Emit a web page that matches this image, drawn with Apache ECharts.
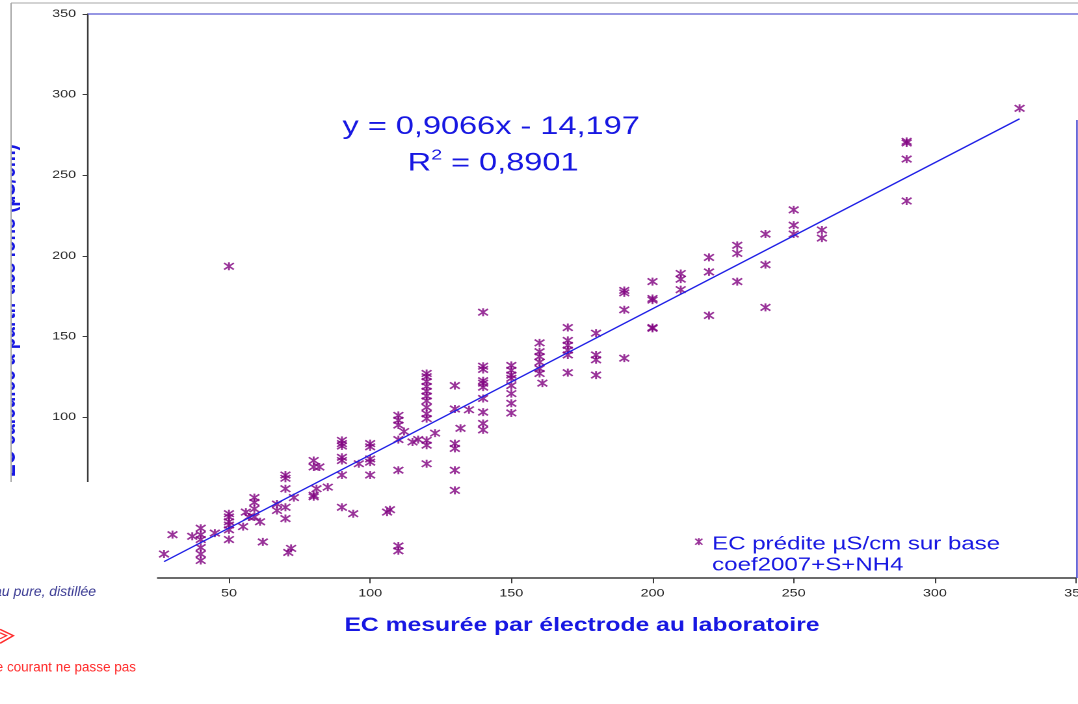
<!DOCTYPE html>
<html>
<head>
<meta charset="utf-8">
<script src="https://cdn.jsdelivr.net/npm/echarts@6/dist/echarts.min.js"></script>
<style>
  html, body { margin: 0; padding: 0; background: #fff; overflow: hidden; width: 1078px; height: 704px; }
  /* the chart picture is drawn on a narrower canvas and widened, like an image stretched on a slide */
  #chart { width: 829px; height: 704px; transform: scaleX(1.30036); transform-origin: 0 0; }
</style>
</head>
<body>
<div id="chart"></div>
<script>
// EC measured by electrode (x) and EC computed from the ions (y), µS/cm
const ecMesuree = [
  27, 30, 37, 45,
  40, 40, 40, 40, 40, 40,
  50, 50, 50, 50, 50, 50, 50,
  55, 56, 57, 61, 62,
  59, 59, 59, 59,
  67, 67, 71, 72, 73,
  70, 70, 70, 70, 70,
  80, 80, 80, 80, 82, 81, 85,
  90, 90, 90, 90, 90, 90, 90,
  94, 96, 106, 107,
  100, 100, 100, 100, 100,
  110, 110, 110, 110, 110, 110, 110,
  112, 115, 117, 123, 132, 135,
  120, 120, 120, 120, 120, 120, 120, 120, 120, 120, 120, 120, 120,
  130, 130, 130, 130, 130, 130,
  140, 140, 140, 140, 140, 140, 140, 140, 140, 140,
  150, 150, 150, 150, 150, 150, 150, 150,
  160, 160, 160, 160, 160, 160, 161,
  170, 170, 170, 170, 170, 170,
  180, 180, 180, 180,
  190, 190, 190, 190,
  200, 200, 200, 200, 200,
  210, 210, 210, 220, 220, 220,
  230, 230, 230, 240, 240, 240,
  250, 250, 250, 260, 260,
  290, 290, 290, 290, 330
];
const ecPredite = [
  15, 27, 26, 28,
  31, 27, 24, 19, 15, 11,
  40, 38, 35, 33, 30, 24, 193.5,
  32, 41, 38, 35, 22.5,
  50, 47, 43, 38,
  46, 42, 16, 18.5, 50,
  64, 62, 55.5, 44, 37,
  73, 69, 51.5, 50.5, 69, 55.5, 56.5,
  85.5, 83.5, 82, 75, 73, 64, 44,
  40, 71, 41, 42.5,
  83.5, 81.5, 74, 72, 64,
  101, 98, 95, 86, 67, 20, 17,
  91, 84.5, 86, 90, 93, 104.5,
  127, 125, 122, 119, 116, 113, 110, 106, 102, 99, 85.5, 82.5, 71,
  119.5, 105, 83.5, 80.5, 67, 54.5,
  165, 131.5, 129.5, 122.5, 121, 118.5, 111.5, 103, 96, 92,
  132, 129, 126, 124, 119.5, 114.5, 108.5, 102.5,
  146, 140.5, 137.5, 134, 130, 127, 121,
  155.5, 147.5, 144.5, 141.5, 138.5, 127.5,
  152, 138.5, 135.5, 126,
  178.5, 177, 166.5, 136.5,
  184, 173.5, 172.5, 155.5, 155,
  189, 185.5, 179, 199, 190, 163,
  206.5, 201.5, 184, 213.5, 194.5, 168,
  228.5, 219, 213.5, 216, 211,
  271, 270, 260, 234, 291.5
];

// linear trend as printed on the chart
const trendSlope = 0.9066;
const trendIntercept = -14.197;
const trendEquation = 'y = 0,9066x - 14,197';
const trendR2 = '0,8901';

const axisTicks = { min: 0, max: 350, interval: 50 };
const seriesName = 'EC prédite µS/cm sur base coef2007+S+NH4';
const xTitle = 'EC mesurée par électrode au laboratoire';
const yTitle = 'EC calculée à partir des ions (µS/cm)';
const noteLines = ['Eau pure, distillée', 'Le courant ne passe pas'];

const STRETCH = 1078 / 829;
const FONT = '"Liberation Sans", Arial, sans-serif';
const BLUE = '#1717e2';
const PURPLE = '#800080';
const AXIS = '#3a3a3a';

const points = ecMesuree.map((x, i) => [x, ecPredite[i]]);
const xLo = Math.min(...ecMesuree);
const xHi = Math.max(...ecMesuree);
const trendPoints = [xLo, xHi].map(x => [x, trendSlope * x + trendIntercept]);

const chart = echarts.init(document.getElementById('chart'), null, { renderer: 'canvas', devicePixelRatio: 2 });

const option = {
  animation: false,
  backgroundColor: '#ffffff',
  grid: { left: 67.5, right: 1.5, top: 14, bottom: 125.8, containLabel: false, outerBoundsMode: 'none' },
  xAxis: {
    type: 'value',
    min: axisTicks.min, max: axisTicks.max, interval: axisTicks.interval,
    name: xTitle,
    nameLocation: 'middle',
    nameGap: 38,
    nameTextStyle: { color: BLUE, fontSize: 19, fontWeight: 'bold', fontFamily: FONT },
    axisLine: { onZero: false, lineStyle: { color: AXIS, width: 1.5 } },
    axisTick: { length: 5, lineStyle: { color: AXIS } },
    axisLabel: { color: '#262626', fontSize: 11, margin: 10, fontFamily: FONT },
    splitLine: { show: false }
  },
  yAxis: {
    type: 'value',
    min: axisTicks.min, max: axisTicks.max, interval: axisTicks.interval,
    axisLine: { show: true, onZero: false, lineStyle: { color: AXIS, width: 1.2 } },
    axisTick: { show: true, length: 4, lineStyle: { color: AXIS } },
    axisLabel: { color: '#262626', fontSize: 11, margin: 9, fontFamily: FONT },
    splitLine: { show: false }
  },
  legend: {
    data: [{ name: seriesName, icon: 'path://M0,0M8,42M0,4.5L5.5,10.5M5.5,4.5L0,10.5M2.75,4L2.75,11' }],
    left: 534, top: 533.5, padding: 0,
    itemWidth: 8, itemHeight: 42,
    selectedMode: false,
    formatter: n => n.replace('base ', 'base\n'),
    itemStyle: { color: PURPLE, borderColor: PURPLE, borderWidth: 1.3 },
    textStyle: { color: BLUE, fontSize: 18.5, fontFamily: FONT, lineHeight: 21 }
  },
  series: [
    {
      type: 'scatter',
      name: seriesName,
      data: points,
      symbol: 'path://M0,1L10,9M10,1L0,9M5,0L5,10',
      symbolSize: [7.5, 8],
      itemStyle: { color: PURPLE, borderColor: PURPLE, borderWidth: 1.5 },
      emphasis: { disabled: true },
      z: 3
    },
    {
      type: 'line',
      name: 'tendance',
      data: trendPoints,
      symbol: 'none',
      lineStyle: { color: '#1f1fe6', width: 1.3 },
      emphasis: { disabled: true },
      silent: true,
      z: 4
    }
  ],
  graphic: [
    // frame of the plot: blue top edge and right edge
    { type: 'line', z: 40, shape: { x1: 67.5, y1: 14, x2: 829, y2: 14 }, style: { stroke: '#5858d2', lineWidth: 1.2 } },
    { type: 'line', z: 40, shape: { x1: 828.2, y1: 120, x2: 828.2, y2: 578 }, style: { stroke: '#4a4ad0', lineWidth: 1.2 } },
    // regression equation
    { type: 'text', z: 45, x: 377.7, y: 127,
      style: { text: trendEquation, fill: BLUE, fontSize: 25, fontFamily: FONT, align: 'center', verticalAlign: 'middle' } },
    { type: 'text', z: 45, x: 379.2, y: 162,
      style: {
        text: '{n|R}{sup|2}{n| = ' + trendR2 + '}',
        align: 'center', verticalAlign: 'middle',
        rich: {
          n: { fill: BLUE, fontSize: 25, fontFamily: FONT, lineHeight: 28, verticalAlign: 'bottom' },
          sup: { fill: BLUE, fontSize: 15, fontFamily: FONT, lineHeight: 15, verticalAlign: 'top' }
        }
      } },
    // vertical axis title, cut by the frame on the left
    { type: 'text', z: 50, x: 6.2, y: 144, rotation: Math.PI / 2,
      style: { text: yTitle, fill: BLUE, fontSize: 19, fontWeight: 'bold', fontFamily: FONT, align: 'right', verticalAlign: 'middle' } },
    { type: 'rect', z: 60, shape: { x: 0, y: 0, width: 8.5, height: 704 }, style: { fill: '#ffffff' } },
    { type: 'line', z: 70, shape: { x1: 8.5, y1: 3, x2: 829, y2: 3 }, style: { stroke: '#a8a8a8', lineWidth: 1 } },
    { type: 'line', z: 70, shape: { x1: 8.5, y1: 3, x2: 8.5, y2: 482 }, style: { stroke: '#a8a8a8', lineWidth: 1 } },
    // note box laid over the lower-left corner
    { type: 'rect', z: 80, shape: { x: 0, y: 482, width: 157 / STRETCH, height: 222 }, style: { fill: '#ffffff' } },
    { type: 'text', z: 90, x: 96 / STRETCH, y: 592, scaleX: 1 / STRETCH,
      style: { text: noteLines[0], fill: '#3b3b94', fontSize: 14, fontStyle: 'italic', fontFamily: FONT, align: 'right', verticalAlign: 'middle' } },
    { type: 'polyline', z: 90, shape: { points: [[0, 629.3], [13.3 / STRETCH, 635.7], [0, 643.3]] }, style: { stroke: '#ff2d2d', lineWidth: 1.4, fill: null } },
    { type: 'polyline', z: 90, shape: { points: [[0, 632.8], [6.5 / STRETCH, 635.7], [0, 638.8]] }, style: { stroke: '#ff2d2d', lineWidth: 1.2, fill: null } },
    { type: 'text', z: 90, x: 136 / STRETCH, y: 668, scaleX: 1 / STRETCH,
      style: { text: noteLines[1], fill: '#ff2a2a', fontSize: 13.5, fontFamily: FONT, align: 'right', verticalAlign: 'middle' } }
  ]
};

chart.setOption(option);
</script>
</body>
</html>
